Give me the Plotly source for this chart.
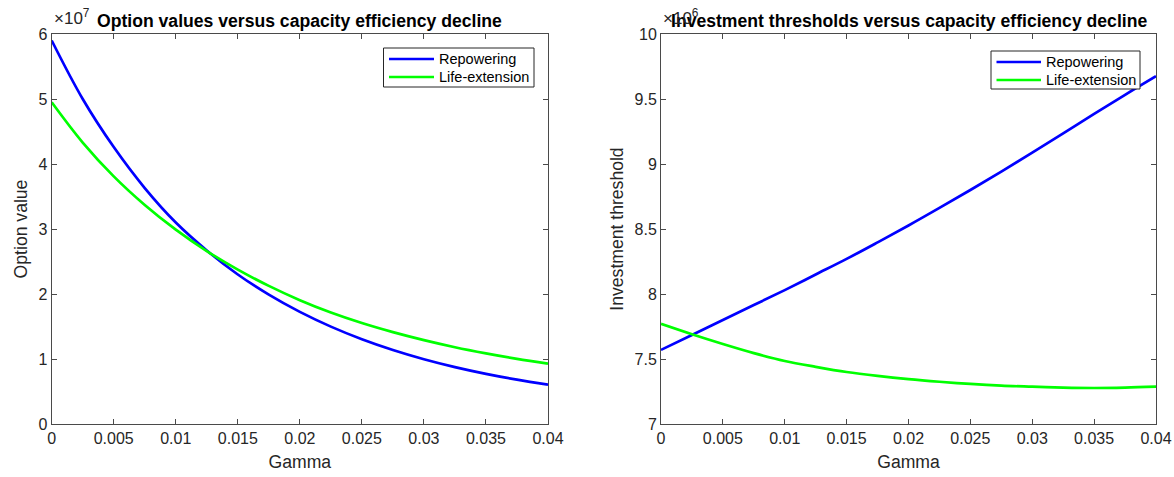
import plotly.graph_objects as go

# Capacity efficiency decline rate (Gamma)
gamma = [0, 0.0025, 0.005, 0.0075, 0.01, 0.0125, 0.015, 0.0175, 0.02,
         0.0225, 0.025, 0.0275, 0.03, 0.0325, 0.035, 0.0375, 0.04]

# Option values (x 1e7)
opt_repowering = [5.90, 5.00, 4.26, 3.63, 3.10, 2.67, 2.30, 1.99, 1.725,
                  1.498, 1.304, 1.138, 0.996, 0.875, 0.771, 0.682, 0.605]
opt_life_ext = [4.95, 4.33, 3.81, 3.37, 2.99, 2.66, 2.375, 2.125, 1.905,
                1.715, 1.553, 1.413, 1.29, 1.181, 1.087, 1.003, 0.93]

# Investment thresholds (x 1e6)
thr_repowering = [7.57, 7.685, 7.80, 7.915, 8.03, 8.15, 8.27, 8.397, 8.527,
                  8.662, 8.80, 8.942, 9.087, 9.235, 9.385, 9.532, 9.675]
thr_life_ext = [7.77, 7.69, 7.615, 7.545, 7.485, 7.44, 7.40, 7.37, 7.345,
                7.325, 7.308, 7.295, 7.287, 7.28, 7.277, 7.28, 7.287]

series_names = ["Repowering", "Life-extension"]

x_ticks = [0, 0.005, 0.01, 0.015, 0.02, 0.025, 0.03, 0.035, 0.04]
x_ticktext = ["0", "0.005", "0.01", "0.015", "0.02", "0.025", "0.03", "0.035", "0.04"]
opt_ticks = [0, 1, 2, 3, 4, 5, 6]
thr_ticks = [7, 7.5, 8, 8.5, 9, 9.5, 10]

OPT_SCALE = 1e7
THR_SCALE = 1e6

BLUE = "#0000FF"
GREEN = "#00FF00"
AX = "#262626"
AXLINE = "#4a4a4a"
FONT = "Liberation Sans, Arial, sans-serif"
W, H = 1174, 477
LW = 2.7


def px(x):
    return x / W


def py(y):
    return 1 - y / H


fig = go.Figure()

panels = [
    ("x", "y", OPT_SCALE, opt_repowering, opt_life_ext),
    ("x2", "y2", THR_SCALE, thr_repowering, thr_life_ext),
]
for xa, ya, scale, rep, life in panels:
    for name, vals, color in [(series_names[0], rep, BLUE), (series_names[1], life, GREEN)]:
        fig.add_trace(go.Scatter(x=gamma, y=[v * scale for v in vals],
                                 mode="lines", name=name, showlegend=False,
                                 line=dict(color=color, width=LW, shape="spline"),
                                 xaxis=xa, yaxis=ya))

dom_x1 = [px(51.7), px(548)]
dom_x2 = [px(661), px(1156)]
dom_y = [py(424), py(34)]

common_axis = dict(
    showline=True, linecolor=AXLINE, linewidth=1, mirror="ticks",
    ticks="inside", ticklen=5, tickcolor=AXLINE, tickwidth=1,
    showgrid=False, zeroline=False, automargin=False,
    tickfont=dict(family=FONT, size=16, color=AX),
)
label_font = dict(family=FONT, size=17.6, color=AX)

fig.update_layout(
    width=W, height=H,
    margin=dict(l=0, r=0, t=0, b=0),
    paper_bgcolor="white", plot_bgcolor="white",
    font=dict(family=FONT, color=AX),
    showlegend=False,
    xaxis=dict(domain=dom_x1, anchor="y", range=[0, 0.04],
               tickvals=x_ticks, ticktext=x_ticktext,
               title=dict(text="Gamma", font=label_font, standoff=9),
               **common_axis),
    yaxis=dict(domain=dom_y, anchor="x", range=[0, 6 * OPT_SCALE],
               tickvals=[t * OPT_SCALE for t in opt_ticks],
               ticktext=[str(t) for t in opt_ticks],
               title=dict(text="Option value", font=label_font, standoff=6),
               **common_axis),
    xaxis2=dict(domain=dom_x2, anchor="y2", range=[0, 0.04],
                tickvals=x_ticks, ticktext=x_ticktext,
                title=dict(text="Gamma", font=label_font, standoff=9),
                **common_axis),
    yaxis2=dict(domain=dom_y, anchor="x2", range=[7 * THR_SCALE, 10 * THR_SCALE],
                tickvals=[t * THR_SCALE for t in thr_ticks],
                ticktext=[f"{t:g}" for t in thr_ticks],
                title=dict(text="Investment threshold", font=label_font, standoff=6),
                **common_axis),
)

# Titles and exponent markers above each axes
titles = [
    ("Option values versus capacity efficiency decline", dom_x1),
    ("Investment thresholds versus capacity efficiency decline", dom_x2),
]
for text, dom in titles:
    fig.add_annotation(text=f"<b>{text}</b>", x=(dom[0] + dom[1]) / 2, y=py(21),
                       xref="paper", yref="paper", xanchor="center", yanchor="middle",
                       showarrow=False, font=dict(family=FONT, size=17.6, color="black"))

for exp, dom in [(7, dom_x1), (6, dom_x2)]:
    fig.add_annotation(text=f"\u00d710<sup>{exp}</sup>", x=dom[0], y=py(30),
                       xref="paper", yref="paper", xanchor="left", yanchor="bottom",
                       showarrow=False, font=dict(family=FONT, size=17, color=AX))

# Boxed legends in the upper-right corner of each axes
legend_boxes = [
    # left, top, right, bottom, sample x0, sample x1, row centres
    (383.5, 48, 534, 87, 389, 434, (59, 77)),
    (991, 51, 1140, 89, 996.5, 1041, (62, 80)),
]
for left, top, right, bottom, sx0, sx1, rows in legend_boxes:
    fig.add_shape(type="rect", xref="paper", yref="paper",
                  x0=px(left), x1=px(right), y0=py(bottom), y1=py(top),
                  line=dict(color=AX, width=1), fillcolor="white", layer="above")
    for name, color, yc in zip(series_names, [BLUE, GREEN], rows):
        fig.add_shape(type="line", xref="paper", yref="paper",
                      x0=px(sx0), x1=px(sx1), y0=py(yc), y1=py(yc),
                      line=dict(color=color, width=LW), layer="above")
        fig.add_annotation(text=name, x=px(sx1 + 3), y=py(yc),
                           xref="paper", yref="paper", xanchor="left", yanchor="middle",
                           showarrow=False, font=dict(family=FONT, size=14.5, color="black"))

fig.write_html("out.html")
